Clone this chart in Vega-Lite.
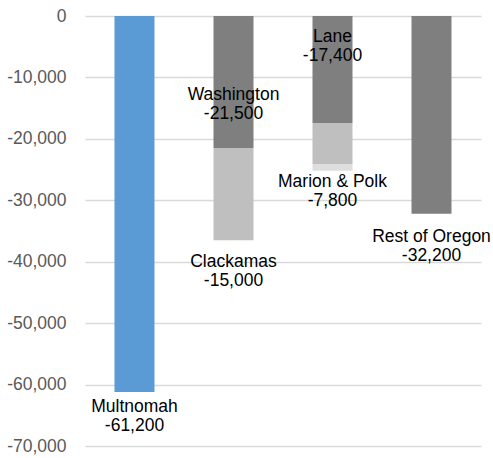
{
  "$schema": "https://vega.github.io/schema/vega-lite/v6.json",
  "autosize": "none",
  "padding": {"left": 85, "top": 16, "right": 12, "bottom": 12},
  "width": 396,
  "height": 430,
  "background": "white",
  "config": {
    "view": {"stroke": null},
    "font": "Liberation Sans",
    "locale": {"number": {"decimal": ".", "thousands": ",", "grouping": [3], "currency": ["$", ""], "minus": "-"}}
  },
  "datasets": {
    "bars": [
      {"col": "c1", "name": "Multnomah", "tier": "focus", "start": 0, "end": -61200},
      {"col": "c2", "name": "Washington", "tier": "tier1", "start": 0, "end": -21500},
      {"col": "c2", "name": "Clackamas", "tier": "tier2", "start": -21500, "end": -36500},
      {"col": "c3", "name": "Lane", "tier": "tier1", "start": 0, "end": -17400},
      {"col": "c3", "name": "Marion", "tier": "tier2", "start": -17400, "end": -24100},
      {"col": "c3", "name": "Polk", "tier": "tier3", "start": -24100, "end": -25200},
      {"col": "c4", "name": "Rest of Oregon", "tier": "tier1", "start": 0, "end": -32200}
    ],
    "labels": [
      {"col": "c1", "name": "Multnomah", "value": -61200, "labelY": -63650},
      {"col": "c2", "name": "Washington", "value": -21500, "labelY": -12860},
      {"col": "c2", "name": "Clackamas", "value": -15000, "labelY": -40050},
      {"col": "c3", "name": "Lane", "value": -17400, "labelY": -3350},
      {"col": "c3", "name": "Marion & Polk", "value": -7800, "labelY": -27100},
      {"col": "c4", "name": "Rest of Oregon", "value": -32200, "labelY": -36000}
    ]
  },
  "encoding": {
    "x": {
      "field": "col", "type": "nominal", "axis": null,
      "scale": {"domain": ["c1", "c2", "c3", "c4"], "paddingInner": 0.596, "paddingOuter": 0.298}
    }
  },
  "layer": [
    {
      "data": {"name": "bars"},
      "mark": {"type": "bar"},
      "encoding": {
        "y": {
          "field": "start", "type": "quantitative",
          "scale": {"domain": [-70000, 0], "nice": false, "zero": false},
          "axis": {
            "values": [0, -10000, -20000, -30000, -40000, -50000, -60000, -70000],
            "format": ",.0f", "title": null, "domain": false, "ticks": false,
            "grid": true, "gridColor": "#d9d9d9", "gridWidth": 1.3,
            "labelColor": "#595959", "labelFontSize": 17.5, "labelPadding": 19,
            "labelFont": "Liberation Sans"
          }
        },
        "y2": {"field": "end"},
        "color": {
          "field": "tier", "type": "nominal", "legend": null,
          "scale": {"domain": ["focus", "tier1", "tier2", "tier3"], "range": ["#5b9bd5", "#7f7f7f", "#bfbfbf", "#dedede"]}
        }
      }
    },
    {
      "data": {"name": "labels"},
      "transform": [
        {"calculate": "datum.name + '\\n' + format(datum.value, ',.0f')", "as": "label"}
      ],
      "mark": {"type": "text", "lineBreak": "\n", "fontSize": 17.5, "lineHeight": 19, "color": "#000000", "align": "center", "baseline": "middle", "font": "Liberation Sans"},
      "encoding": {
        "y": {"field": "labelY", "type": "quantitative"},
        "text": {"field": "label", "type": "nominal"}
      }
    }
  ]
}
